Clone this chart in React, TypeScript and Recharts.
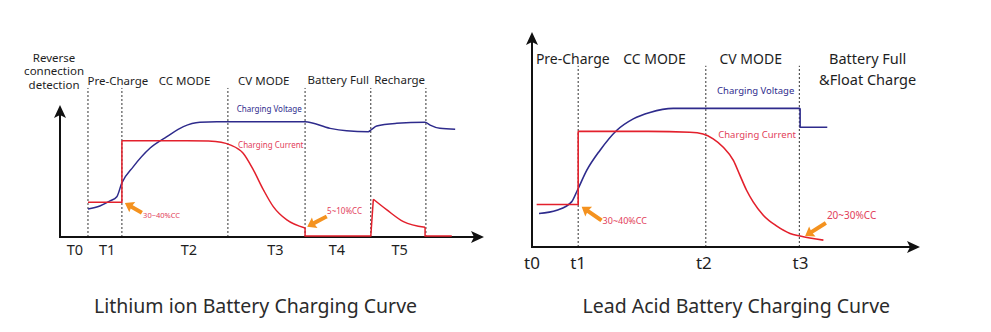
import React from 'react';
import { ComposedChart, Line, XAxis, YAxis, ReferenceLine, ReferenceDot } from 'recharts';

type Pt = { t: number; v: number };
const pts = (rows: number[][]): Pt[] => rows.map(([t, v]) => ({ t, v }));

// Lithium ion curve: time 0-100 along the axis, level 0-100 up the axis
const liPhaseEdges = [6.6, 14.6, 39.6, 57.8, 73.3, 86.3];
const liTickPos = [3.5, 11.1, 30.4, 50.8, 65.3, 80.1];
const liTickLabels = ['T0', 'T1', 'T2', 'T3', 'T4', 'T5'];

const liVoltage = pts([
  [6.6, 21.2], [9.4, 23.5], [11.8, 27.3], [13.4, 30.5], [14.55, 40.7], [17.3, 53.3],
  [21.2, 67.2], [25.2, 76.0], [29.1, 83.6], [33.0, 86.9], [37.0, 87.3], [57.8, 87.3],
  [63.7, 82.3], [67.6, 80.5], [72.7, 79.8], [73.5, 81.5], [74.7, 84.1], [79.4, 86.1],
  [86.1, 86.9], [87.3, 84.8], [89.6, 82.3], [93.2, 81.6],
]);
const liCurrentPre = pts([[6.6, 26.3], [14.6, 26.3], [14.6, 73.0]]);
const liCurrentCC = pts([
  [14.6, 73.0], [30.0, 73.0], [35.0, 72.7], [38.0, 71.8], [40.1, 69.8], [43.2, 63.4],
  [45.6, 50.8], [48.0, 35.6], [50.3, 23.0], [53.5, 12.9], [57.8, 6.8],
]);
const liCurrentFull = pts([[57.8, 6.8], [57.8, 0.8], [73.3, 0.8], [73.9, 28.6]]);
const liCurrentRecharge = pts([[73.9, 28.6], [77.1, 20.5], [81.0, 11.6], [86.1, 7.3]]);
const liCurrentEnd = pts([[86.1, 7.3], [86.1, 0.8], [92.4, 0.8]]);

// Lead acid curve
const laPhaseEdges = [11.9, 44.8, 68.9];
const laTickPos = [0, 11.9, 44.3, 69.2];
const laTickLabels = ['t0', 't1', 't2', 't3'];

const laVoltage = pts([
  [1.8, 15.6], [6.4, 17.1], [10.2, 21.0], [11.7, 26.4], [14.1, 35.6], [17.5, 44.9],
  [21.8, 54.2], [26.1, 59.6], [30.4, 62.6], [36.4, 64.5], [69.1, 64.5],
]);
const laVoltageFloat = pts([[69.1, 64.5], [69.1, 55.7], [76.1, 55.7]]);
const laCurrentPre = pts([[1.2, 19.8], [11.9, 19.8], [11.9, 53.8]]);
const laCurrentCC = pts([
  [11.9, 53.8], [30.0, 53.8], [40.7, 53.4], [44.1, 52.6], [46.7, 50.3], [49.3, 46.4],
  [51.9, 40.3], [53.6, 33.3], [55.3, 26.4], [57.0, 21.0], [59.6, 14.8], [63.1, 9.7],
  [66.5, 6.3], [69.1, 5.1], [75.1, 3.2],
]);

const FONT = '"Noto Sans", sans-serif';
const AXIS = '#111';
const VOLT = '#2e2b8c';
const CURR = '#e3202c';
const NOTE_RED = '#e2405a';
const ORANGE = '#f4921f';
const HEAD = '#1e1e1e';

function arrowShape(color: string, shaft: number, headLen: number, headHalf: number, notch: number) {
  return (p: any) => {
    const { x1, y1, x2, y2 } = p;
    const len = Math.hypot(x2 - x1, y2 - y1) || 1;
    const ux = (x2 - x1) / len;
    const uy = (y2 - y1) / len;
    const bx = x2 - ux * headLen;
    const by = y2 - uy * headLen;
    const nx = x2 - ux * (headLen - notch);
    const ny = y2 - uy * (headLen - notch);
    const d = `M${x2},${y2} L${bx - uy * headHalf},${by + ux * headHalf} L${nx},${ny} L${bx + uy * headHalf},${by - ux * headHalf} Z`;
    return (
      <g>
        <line x1={x1} y1={y1} x2={nx} y2={ny} stroke={color} strokeWidth={shaft} strokeLinecap="square" />
        <path d={d} fill={color} />
      </g>
    );
  };
}

function note(text: string, size: number, color: string, anchor: 'start' | 'middle' | 'end' = 'start') {
  return (p: any) => (
    <text
      x={p.cx}
      y={p.cy}
      fontSize={size}
      fill={color}
      textAnchor={anchor}
      dominantBaseline="central"
      fontFamily={FONT}
    >
      {text}
    </text>
  );
}

const axisArrow = arrowShape(AXIS, 2, 13, 6, 3);
const orangeArrow = arrowShape(ORANGE, 4, 8.5, 6, 1);

function LithiumChart() {
  return (
    <ComposedChart width={495} height={332} margin={{ top: 105, right: 11, bottom: 65, left: 60 }}>
      <XAxis
        dataKey="t"
        type="number"
        domain={[0, 100]}
        ticks={liTickPos}
        interval={0}
        tickFormatter={(_v: number, i: number) => liTickLabels[i]}
        axisLine={false}
        tickLine={false}
        tickSize={0}
        tickMargin={8}
        height={30}
        tick={{ fontSize: 14.5, fill: HEAD, fontFamily: FONT }}
      />
      <YAxis type="number" domain={[0, 100]} hide />
      {liPhaseEdges.map((x) => (
        <ReferenceLine
          key={x}
          segment={[{ x, y: 0 }, { x, y: 112.9 }]}
          stroke="#333"
          strokeDasharray="2 2"
          strokeWidth={1}
          ifOverflow="visible"
        />
      ))}
      <ReferenceLine segment={[{ x: 0, y: 0 }, { x: 100, y: 0 }]} ifOverflow="visible" shape={axisArrow} />
      <ReferenceLine segment={[{ x: 0, y: 0 }, { x: 0, y: 100 }]} ifOverflow="visible" shape={axisArrow} />

      <Line data={liVoltage} dataKey="v" type="monotone" stroke={VOLT} strokeWidth={1.5} dot={false} isAnimationActive={false} />
      <Line data={liCurrentPre} dataKey="v" type="linear" stroke={CURR} strokeWidth={1.5} dot={false} isAnimationActive={false} />
      <Line data={liCurrentCC} dataKey="v" type="monotone" stroke={CURR} strokeWidth={1.5} dot={false} isAnimationActive={false} />
      <Line data={liCurrentFull} dataKey="v" type="linear" stroke={CURR} strokeWidth={1.5} dot={false} isAnimationActive={false} />
      <Line data={liCurrentRecharge} dataKey="v" type="monotone" stroke={CURR} strokeWidth={1.5} dot={false} isAnimationActive={false} />
      <Line data={liCurrentEnd} dataKey="v" type="linear" stroke={CURR} strokeWidth={1.5} dot={false} isAnimationActive={false} />

      <ReferenceLine segment={[{ x: 18.9, y: 19.2 }, { x: 15.3, y: 25.8 }]} ifOverflow="visible" shape={orangeArrow} />
      <ReferenceLine segment={[{ x: 62.5, y: 14.9 }, { x: 58.3, y: 7.8 }]} ifOverflow="visible" shape={orangeArrow} />

      <ReferenceDot x={-1.4} y={136.0} ifOverflow="visible" shape={note('Reverse', 11.5, HEAD, 'middle')} />
      <ReferenceDot x={-1.4} y={125.8} ifOverflow="visible" shape={note('connection', 11.5, HEAD, 'middle')} />
      <ReferenceDot x={-1.4} y={115.6} ifOverflow="visible" shape={note('detection', 11.5, HEAD, 'middle')} />
      <ReferenceDot x={6.5} y={118.2} ifOverflow="visible" shape={note('Pre-Charge', 11.5, HEAD)} />
      <ReferenceDot x={23.3} y={118.2} ifOverflow="visible" shape={note('CC MODE', 11.5, HEAD)} />
      <ReferenceDot x={42.0} y={118.2} ifOverflow="visible" shape={note('CV MODE', 11.5, HEAD)} />
      <ReferenceDot x={58.4} y={119.5} ifOverflow="visible" shape={note('Battery Full', 11.5, HEAD)} />
      <ReferenceDot x={74.1} y={119.5} ifOverflow="visible" shape={note('Recharge', 11.5, HEAD)} />
      <ReferenceDot x={41.7} y={97.7} ifOverflow="visible" shape={note('Charging Voltage', 8, VOLT)} />
      <ReferenceDot x={42.0} y={70.2} ifOverflow="visible" shape={note('Charging Current', 8, NOTE_RED)} />
      <ReferenceDot x={19.6} y={16.4} ifOverflow="visible" shape={note('30~40%CC', 7.5, NOTE_RED)} />
      <ReferenceDot x={63.0} y={19.9} ifOverflow="visible" shape={note('5~10%CC', 8, NOTE_RED)} />
    </ComposedChart>
  );
}

function LeadAcidChart() {
  return (
    <ComposedChart width={496} height={332} margin={{ top: 32, right: 71, bottom: 55, left: 37 }}>
      <XAxis
        dataKey="t"
        type="number"
        domain={[0, 100]}
        ticks={laTickPos}
        interval={0}
        tickFormatter={(_v: number, i: number) => laTickLabels[i]}
        axisLine={false}
        tickLine={false}
        tickSize={0}
        tickMargin={10}
        height={30}
        tick={{ fontSize: 17, fill: HEAD, fontFamily: FONT }}
      />
      <YAxis type="number" domain={[0, 100]} hide />
      {laPhaseEdges.map((x) => (
        <ReferenceLine
          key={x}
          segment={[{ x, y: 0 }, { x, y: 84.3 }]}
          stroke="#333"
          strokeDasharray="2 2"
          strokeWidth={1}
          ifOverflow="visible"
        />
      ))}
      <ReferenceLine segment={[{ x: 0, y: 0 }, { x: 100, y: 0 }]} ifOverflow="visible" shape={axisArrow} />
      <ReferenceLine segment={[{ x: 0, y: 0 }, { x: 0, y: 100 }]} ifOverflow="visible" shape={axisArrow} />

      <Line data={laVoltage} dataKey="v" type="monotone" stroke={VOLT} strokeWidth={1.6} dot={false} isAnimationActive={false} />
      <Line data={laVoltageFloat} dataKey="v" type="linear" stroke={VOLT} strokeWidth={1.6} dot={false} isAnimationActive={false} />
      <Line data={laCurrentPre} dataKey="v" type="linear" stroke={CURR} strokeWidth={1.6} dot={false} isAnimationActive={false} />
      <Line data={laCurrentCC} dataKey="v" type="monotone" stroke={CURR} strokeWidth={1.6} dot={false} isAnimationActive={false} />

      <ReferenceLine segment={[{ x: 17.5, y: 12.9 }, { x: 12.8, y: 18.7 }]} ifOverflow="visible" shape={orangeArrow} />
      <ReferenceLine segment={[{ x: 75.3, y: 10.7 }, { x: 70.4, y: 5.1 }]} ifOverflow="visible" shape={orangeArrow} />

      <ReferenceDot x={1.0} y={87.8} ifOverflow="visible" shape={note('Pre-Charge', 14, HEAD)} />
      <ReferenceDot x={23.5} y={87.8} ifOverflow="visible" shape={note('CC MODE', 14, HEAD)} />
      <ReferenceDot x={48.3} y={87.8} ifOverflow="visible" shape={note('CV MODE', 14, HEAD)} />
      <ReferenceDot x={86.5} y={87.8} ifOverflow="visible" shape={note('Battery Full', 14.5, HEAD, 'middle')} />
      <ReferenceDot x={86.5} y={78.0} ifOverflow="visible" shape={note('&Float Charge', 14.5, HEAD, 'middle')} />
      <ReferenceDot x={67.6} y={72.6} ifOverflow="visible" shape={note('Charging Voltage', 9.5, VOLT, 'end')} />
      <ReferenceDot x={48.0} y={52.1} ifOverflow="visible" shape={note('Charging Current', 9.5, NOTE_RED)} />
      <ReferenceDot x={18.2} y={12.2} ifOverflow="visible" shape={note('30~40%CC', 9, NOTE_RED)} />
      <ReferenceDot x={76.0} y={14.9} ifOverflow="visible" shape={note('20~30%CC', 10, NOTE_RED)} />
    </ComposedChart>
  );
}

const titleStyle: React.CSSProperties = {
  position: 'absolute',
  top: 294,
  width: 420,
  textAlign: 'center',
  fontSize: 19.5,
  lineHeight: '24px',
  color: '#2b2b2b',
  fontFamily: FONT,
  whiteSpace: 'nowrap',
};

export default function App() {
  return (
    <div style={{ position: 'absolute', left: 0, top: 0, width: 991, height: 332, background: '#fff', fontFamily: FONT }}>
      <div style={{ position: 'absolute', left: 0, top: 0 }}>
        <LithiumChart />
      </div>
      <div style={{ position: 'absolute', left: 495, top: 0 }}>
        <LeadAcidChart />
      </div>
      <div style={{ ...titleStyle, left: 255.5 - 210 }}>Lithium ion Battery Charging Curve</div>
      <div style={{ ...titleStyle, left: 736.3 - 210 }}>Lead Acid Battery Charging Curve</div>
    </div>
  );
}
